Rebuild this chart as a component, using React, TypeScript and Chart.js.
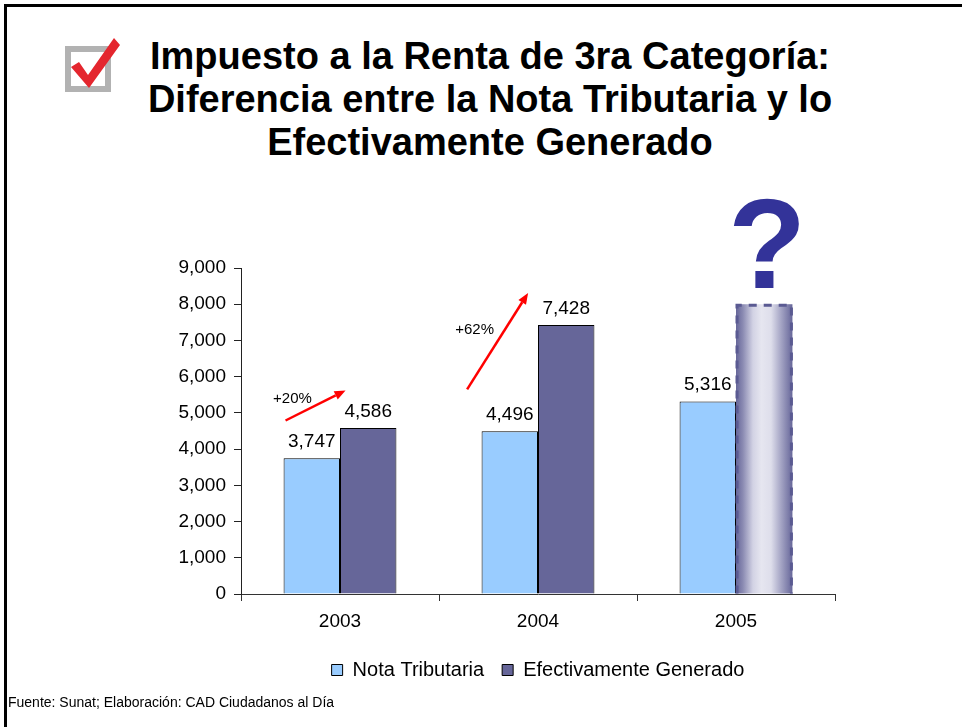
import React, { useEffect, useRef } from "react";
import { Chart, registerables } from "chart.js";

Chart.register(...registerables);

// ---- data ----
const categories = ["2003", "2004", "2005"];
const seriesNames = ["Nota Tributaria", "Efectivamente Generado"];
const notaTributaria = [3747, 4496, 5316];
// 2005 "Efectivamente Generado" is unknown: drawn as a placeholder bar up to 8,000 with a "?"
const efectivamenteGenerado = [4586, 7428, 8000];
const unknownIndex = 2;
const yMax = 9000;
const yStep = 1000;
const growthLabels = ["+20%", "+62%"];
const growthFromValue = [4790, 5650];
const growthToValue = [5620, 8310];
const growthLabelValue = [5400, 7280];
const titleLines = [
  "Impuesto a la Renta de 3ra Categoría:",
  "Diferencia entre la Nota Tributaria y lo",
  "Efectivamente Generado",
];
const sourceText = "Fuente: Sunat; Elaboración: CAD Ciudadanos al Día";

const FONT = '"Liberation Sans", Arial, Helvetica, sans-serif';
const LIGHT = "#99CCFF";
const DARK = "#666699";

const fmt = (v: number) => v.toLocaleString("en-US");

const overlayPlugin = {
  id: "overlay",
  afterDatasetsDraw(chart: any) {
    const { ctx, scales } = chart;
    const xs = scales.x;
    const ys = scales.y;
    const m0 = chart.getDatasetMeta(0);
    const m1 = chart.getDatasetMeta(1);

    ctx.save();
    // unknown placeholder bar: gradient fill + dashed border
    const el = m1.data[unknownIndex];
    const p = el.getProps(["x", "y", "base", "width"], true);
    const left = p.x - p.width / 2;
    const right = p.x + p.width / 2;
    const g = ctx.createLinearGradient(left, 0, right, 0);
    g.addColorStop(0, "#666699");
    g.addColorStop(0.12, "#8a8ab2");
    g.addColorStop(0.3, "#d2d2e4");
    g.addColorStop(0.45, "#e6e6f0");
    g.addColorStop(0.62, "#dedeeb");
    g.addColorStop(0.8, "#a4a4c4");
    g.addColorStop(1, "#666699");
    ctx.fillStyle = g;
    ctx.fillRect(left, p.y, p.width, p.base - p.y);
    ctx.setLineDash([8, 7]);
    ctx.lineWidth = 3;
    ctx.strokeStyle = "#5a5a92";
    ctx.beginPath();
    ctx.moveTo(left + 1, p.base);
    ctx.lineTo(left + 1, p.y + 1);
    ctx.lineTo(right - 1, p.y + 1);
    ctx.lineTo(right - 1, p.base);
    ctx.stroke();
    ctx.setLineDash([]);

    // question mark
    ctx.fillStyle = "#333399";
    ctx.font = `bold 128px ${FONT}`;
    ctx.textAlign = "center";
    ctx.textBaseline = "alphabetic";
    ctx.fillText("?", p.x + 3, p.y - 16);

    // value labels
    ctx.fillStyle = "#000";
    ctx.font = `19px ${FONT}`;
    [m0, m1].forEach((meta: any, di: number) => {
      const values = di === 0 ? notaTributaria : efectivamenteGenerado;
      meta.data.forEach((bar: any, i: number) => {
        if (di === 1 && i === unknownIndex) return;
        const b = bar.getProps(["x", "y"], true);
        ctx.fillText(fmt(values[i]), b.x, b.y - 11);
      });
    });

    // growth arrows
    const cw = xs.getPixelForValue(1) - xs.getPixelForValue(0);
    const arrowX = [
      [-0.275, 0.028],
      [-0.358, -0.05],
    ];
    const labelX = [-0.24, -0.32];
    growthLabels.forEach((lab, i) => {
      const c = xs.getPixelForValue(i);
      const x1 = c + arrowX[i][0] * cw;
      const x2 = c + arrowX[i][1] * cw;
      const y1 = ys.getPixelForValue(growthFromValue[i]);
      const y2 = ys.getPixelForValue(growthToValue[i]);
      const ang = Math.atan2(y2 - y1, x2 - x1);
      const hl = 11;
      const hw = 4.5;
      const bx = x2 - Math.cos(ang) * hl;
      const by = y2 - Math.sin(ang) * hl;
      ctx.strokeStyle = "#ff0000";
      ctx.fillStyle = "#ff0000";
      ctx.lineWidth = 2.5;
      ctx.beginPath();
      ctx.moveTo(x1, y1);
      ctx.lineTo(bx, by);
      ctx.stroke();
      ctx.beginPath();
      ctx.moveTo(x2, y2);
      ctx.lineTo(bx + Math.sin(ang) * hw, by - Math.cos(ang) * hw);
      ctx.lineTo(bx - Math.sin(ang) * hw, by + Math.cos(ang) * hw);
      ctx.closePath();
      ctx.fill();

      ctx.fillStyle = "#000";
      ctx.font = `15px ${FONT}`;
      ctx.textAlign = "center";
      ctx.textBaseline = "middle";
      ctx.fillText(lab, c + labelX[i] * cw, ys.getPixelForValue(growthLabelValue[i]));
    });
    ctx.restore();
  },
};

export default function App() {
  const ref = useRef<HTMLCanvasElement | null>(null);

  useEffect(() => {
    document.body.style.margin = "0";
    if (!ref.current) return;
    const chart = new Chart(ref.current, {
      type: "bar",
      data: {
        labels: categories,
        datasets: [
          {
            label: seriesNames[0],
            data: notaTributaria,
            backgroundColor: LIGHT,
            borderColor: "#000",
            borderWidth: 1,
          },
          {
            label: seriesNames[1],
            data: efectivamenteGenerado,
            backgroundColor: efectivamenteGenerado.map((_, i) =>
              i === unknownIndex ? "rgba(0,0,0,0)" : DARK
            ),
            borderColor: "#000",
            borderWidth: efectivamenteGenerado.map((_, i) => (i === unknownIndex ? 0 : 1)),
          },
        ],
      },
      options: {
        responsive: false,
        animation: false,
        devicePixelRatio: 1,
        layout: { padding: { top: 268, left: 151, right: 127, bottom: 37 } },
        datasets: {
          bar: { categoryPercentage: 0.57, barPercentage: 1 },
        },
        plugins: {
          title: { display: false },
          tooltip: { enabled: false },
          legend: {
            position: "bottom",
            fullSize: false,
            labels: {
              font: { family: FONT, size: 20 },
              color: "#000",
              boxWidth: 11,
              boxHeight: 11,
              padding: 18,
              generateLabels: () =>
                seriesNames.map((t, i) => ({
                  text: t,
                  fillStyle: i === 0 ? LIGHT : DARK,
                  strokeStyle: "#000",
                  lineWidth: 1,
                  datasetIndex: i,
                  hidden: false,
                })),
            },
          },
        },
        scales: {
          x: {
            afterFit: (s: any) => {
              s.height = 48;
            },
            grid: {
              display: true,
              drawOnChartArea: false,
              drawTicks: true,
              tickLength: 7,
              color: "#333",
              offset: true,
            },
            border: { color: "#333", width: 1 },
            ticks: {
              color: "#000",
              font: { family: FONT, size: 19 },
              padding: 9,
            },
          },
          y: {
            min: 0,
            max: yMax,
            afterFit: (s: any) => {
              s.width = 90;
            },
            grid: {
              display: true,
              drawOnChartArea: false,
              drawTicks: true,
              tickLength: 7,
              color: "#222",
            },
            border: { color: "#222", width: 1 },
            ticks: {
              stepSize: yStep,
              color: "#000",
              font: { family: FONT, size: 19 },
              padding: 8,
              callback: (v: any) => fmt(Number(v)),
            },
          },
        },
      },
      plugins: [overlayPlugin],
    });
    return () => chart.destroy();
  }, []);

  return (
    <div style={{ position: "fixed", left: 0, top: 0, width: 962, height: 727, background: "#fff", overflow: "hidden", fontFamily: FONT }}>
      <div style={{ position: "absolute", left: 4, top: 4, width: 980, height: 740, borderTop: "3px solid #000", borderLeft: "3px solid #000" }} />
      <svg width="70" height="70" style={{ position: "absolute", left: 58, top: 31 }} viewBox="0 0 70 70">
        <rect x="10" y="18" width="40" height="40" fill="none" stroke="#b2b2b2" strokeWidth="6" />
        <polygon points="13,36 21,31 30,44 56,7 62,14 31,57" fill="#e4262e" />
      </svg>
      <div style={{ position: "absolute", left: 140, top: 35, width: 700, textAlign: "center", fontWeight: "bold", fontSize: 38, lineHeight: "43px", color: "#000", whiteSpace: "nowrap" }}>
        {titleLines.map((t, i) => (
          <div key={i}>{t}</div>
        ))}
      </div>
      <canvas ref={ref} width={962} height={727} style={{ position: "absolute", left: 0, top: 0 }} />
      <div style={{ position: "absolute", left: 8, top: 694, fontSize: 14, color: "#000", whiteSpace: "nowrap" }}>{sourceText}</div>
    </div>
  );
}
